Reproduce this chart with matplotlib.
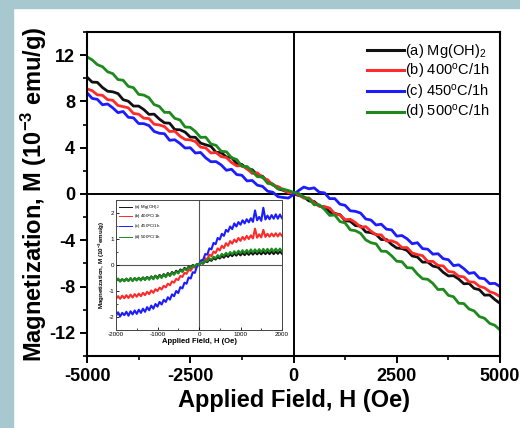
import numpy as np
import matplotlib
matplotlib.use('Agg')
import matplotlib.pyplot as plt
from matplotlib.patches import Rectangle
from matplotlib.ticker import MultipleLocator

plt.rcParams['font.family'] = ['Liberation Sans', 'DejaVu Sans']
plt.rcParams['axes.unicode_minus'] = False
plt.rcParams['mathtext.default'] = 'regular'

# Field sweep grids (Oe)
field_main = np.arange(-5000, 5001, 125)
field_inset = np.arange(-2000, 2001, 50)

labels = ['(a) Mg(OH)$_2$', '(b) 400$^{o}$C/1h', '(c) 450$^{o}$C/1h', '(d) 500$^{o}$C/1h']
colors = ['#111111', '#ff2a2a', '#1c1cff', '#1e8a1e']

# Main panel, M in 10^-3 emu/g
m_a = [10.1, 9.67, 9.65, 9.2, 8.88, 8.83, 8.68, 8.15, 8.02, 7.6, 7.6, 7.3, 6.88, 6.9, 6.48, 6.15, 6.12, 5.57, 5.55, 5.35,
       4.92, 4.9, 4.4, 4.25, 4.12, 3.6, 3.58, 3.2, 3.15, 2.63, 2.55, 2.17, 2.1, 1.65, 1.53, 1.05, 0.85, 0.45, 0.32, 0.13,
       0.0,
       -0.12, -0.25, -0.6, -0.65, -1.04, -1.11, -1.56, -1.68, -1.79, -2.3, -2.36, -2.73, -2.77, -3.28, -3.34, -3.5, -3.94, -3.93, -4.36, -4.67,
       -4.71, -4.88, -5.36, -5.45, -5.89, -5.88, -6.23, -6.33, -6.77, -7.08, -7.06, -7.35, -7.76, -7.73, -8.16, -8.27, -8.74, -8.73, -9.12, -9.45]
m_b = [9.08, 8.93, 8.57, 8.53, 8.15, 8.1, 7.65, 7.55, 7.45, 6.96, 6.9, 6.55, 6.52, 6.03, 5.97, 5.83, 5.4, 5.43, 5.0, 4.71,
       4.68, 4.53, 4.05, 3.98, 3.55, 3.58, 3.23, 3.15, 2.72, 2.43, 2.45, 2.18, 1.78, 1.83, 1.4, 1.23, 0.75, 0.65, 0.38, 0.12,
       0.05,
       -0.05, -0.36, -0.34, -0.76, -1.06, -1.09, -1.21, -1.72, -1.82, -2.22, -2.19, -2.47, -2.87, -2.82, -3.21, -3.52, -3.53, -4.06, -4.04, -4.22,
       -4.63, -4.63, -5.1, -5.23, -5.33, -5.83, -5.82, -6.18, -6.21, -6.7, -6.75, -7.11, -7.16, -7.59, -7.62, -7.98, -8.11, -8.44, -8.59, -8.87]
m_c = [8.75, 8.26, 8.18, 7.71, 7.78, 7.44, 7.03, 7.13, 6.63, 6.58, 6.09, 6.08, 5.92, 5.41, 5.25, 5.21, 4.64, 4.69, 4.37, 3.97,
       4.0, 3.54, 3.59, 3.12, 2.79, 2.8, 2.51, 2.05, 2.14, 1.68, 1.62, 1.13, 1.17, 0.76, 0.66, 0.24, 0.15, -0.23, -0.3, -0.35,
       -0.05,
       0.3, 0.6, 0.45, 0.53, 0.15, 0.1, -0.4, -0.4, -0.88, -0.98, -1.45, -1.5, -1.65, -2.16, -2.25, -2.68, -2.61, -3.04, -3.1, -3.64,
       -3.59, -3.87, -4.3, -4.21, -4.72, -4.77, -5.2, -5.16, -5.59, -5.68, -6.19, -6.12, -6.45, -6.86, -6.79, -7.27, -7.32, -7.75, -7.72, -8.0]
m_d = [11.85, 11.59, 11.18, 11.0, 10.56, 10.4, 9.89, 9.83, 9.3, 9.19, 8.61, 8.55, 8.32, 7.73, 7.57, 7.06, 7.05, 6.54, 6.4, 5.79,
       5.76, 5.4, 4.89, 4.91, 4.33, 4.2, 3.69, 3.65, 3.14, 2.98, 2.39, 2.38, 1.97, 1.49, 1.48, 0.92, 0.83, 0.45, 0.42, 0.3,
       0.15,
       0.05, -0.3, -0.4, -0.93, -0.93, -1.33, -1.85, -1.82, -2.38, -2.5, -3.1, -3.17, -3.4, -3.97, -4.21, -4.31, -4.94, -4.96, -5.34, -5.81,
       -5.85, -6.37, -6.39, -6.92, -7.32, -7.37, -7.73, -8.26, -8.23, -8.76, -8.88, -9.44, -9.47, -9.94, -10.11, -10.59, -10.74, -11.18, -11.35, -11.75]

# Inset panel, M in 10^-3 emu/g
i_a = [-0.6, -0.55, -0.62, -0.55, -0.61, -0.53, -0.6, -0.52, -0.6, -0.51, -0.58, -0.5, -0.57, -0.48, -0.56, -0.46, -0.54, -0.44, -0.52, -0.41,
       -0.5, -0.38, -0.47, -0.35, -0.44, -0.31, -0.4, -0.27, -0.35, -0.22, -0.3, -0.17, -0.24, -0.11, -0.18, -0.06, -0.12, 0.0, -0.05, 0.03,
       0.0,
       0.08, 0.05, 0.15, 0.11, 0.21, 0.16, 0.27, 0.21, 0.31, 0.25, 0.35, 0.28, 0.39, 0.31, 0.42, 0.34, 0.44, 0.36, 0.46, 0.37,
       0.47, 0.38, 0.48, 0.39, 0.49, 0.4, 0.5, 0.41, 0.5, 0.41, 0.51, 0.42, 0.51, 0.42, 0.52, 0.42, 0.52, 0.43, 0.52, 0.43]
i_b = [-1.3, -1.2, -1.3, -1.18, -1.28, -1.16, -1.27, -1.14, -1.25, -1.12, -1.22, -1.1, -1.2, -1.07, -1.16, -1.03, -1.12, -0.98, -1.07, -0.93,
       -1.0, -0.87, -0.94, -0.8, -0.86, -0.72, -0.78, -0.63, -0.68, -0.53, -0.58, -0.42, -0.46, -0.3, -0.34, -0.18, -0.22, -0.07, -0.1, 0.04,
       0.02,
       0.12, 0.1, 0.26, 0.22, 0.4, 0.34, 0.52, 0.46, 0.64, 0.56, 0.74, 0.65, 0.84, 0.74, 0.92, 0.82, 0.98, 0.88, 1.04, 0.93,
       1.08, 0.97, 1.12, 1.0, 1.14, 1.02, 1.4, 1.05, 1.18, 1.06, 1.35, 1.08, 1.2, 1.09, 1.21, 1.1, 1.22, 1.1, 1.22, 1.12]
i_c = [-1.95, -1.82, -1.98, -1.84, -1.93, -1.8, -1.95, -1.78, -1.9, -1.75, -1.88, -1.72, -1.84, -1.68, -1.8, -1.62, -1.74, -1.56, -1.68, -1.5,
       -1.6, -1.42, -1.52, -1.34, -1.42, -1.24, -1.33, -1.13, -1.2, -1.0, -1.08, -0.85, -0.9, -0.68, -0.72, -0.48, -0.52, -0.28, -0.3, -0.06,
       0.02,
       0.18, 0.2, 0.42, 0.4, 0.64, 0.6, 0.85, 0.8, 1.04, 0.98, 1.2, 1.12, 1.35, 1.28, 1.48, 1.38, 1.6, 1.48, 1.65, 1.55,
       1.72, 1.6, 1.76, 1.64, 1.8, 1.66, 2.1, 1.72, 1.85, 1.7, 2.2, 1.75, 1.9, 1.76, 1.92, 1.78, 1.95, 1.78, 1.94, 1.8]
i_d = [-0.62, -0.52, -0.64, -0.54, -0.63, -0.52, -0.62, -0.5, -0.62, -0.5, -0.6, -0.49, -0.6, -0.48, -0.58, -0.46, -0.57, -0.44, -0.55, -0.42,
       -0.53, -0.4, -0.5, -0.37, -0.47, -0.34, -0.43, -0.3, -0.38, -0.25, -0.33, -0.2, -0.27, -0.14, -0.2, -0.08, -0.13, -0.02, -0.06, 0.04,
       0.0,
       0.1, 0.06, 0.18, 0.14, 0.26, 0.2, 0.32, 0.26, 0.38, 0.3, 0.43, 0.35, 0.47, 0.38, 0.5, 0.41, 0.53, 0.43, 0.55, 0.45,
       0.57, 0.46, 0.58, 0.47, 0.6, 0.48, 0.6, 0.49, 0.61, 0.5, 0.62, 0.5, 0.62, 0.51, 0.63, 0.51, 0.63, 0.52, 0.63, 0.52]

main_series = [m_a, m_b, m_c, m_d]
inset_series = [i_a, i_b, i_c, i_d]

fig = plt.figure(figsize=(5.2, 4.28), dpi=100)
bg = '#a8c8cf'
fig.patches.append(Rectangle((0, 0), 13 / 520, 1, transform=fig.transFigure, color=bg, zorder=-5))
fig.patches.append(Rectangle((0, 1 - 8 / 428), 1, 8 / 428, transform=fig.transFigure, color=bg, zorder=-5))

# Main plot
ax = fig.add_axes([87 / 520, 72 / 428, 413 / 520, 324 / 428])
ax.axhline(0, color='black', lw=1.4, zorder=1)
ax.axvline(0, color='black', lw=1.4, zorder=1)
for m, c, lab in zip(main_series, colors, labels):
    ax.plot(field_main, m, color=c, lw=2.0, label=lab, zorder=2)

ax.set_xlim(-5000, 5000)
ax.set_ylim(-14, 14)
ax.set_xticks([-5000, -2500, 0, 2500, 5000])
ax.set_yticks([-12, -8, -4, 0, 4, 8, 12])
ax.xaxis.set_minor_locator(MultipleLocator(1250))
ax.yaxis.set_minor_locator(MultipleLocator(2))
ax.tick_params(which='major', direction='out', length=5, width=1.4, labelsize=13)
ax.tick_params(which='minor', direction='out', length=3, width=1.2)
for t in ax.get_xticklabels() + ax.get_yticklabels():
    t.set_fontweight('bold')
for s in ax.spines.values():
    s.set_linewidth(1.5)
ax.set_xlabel('Applied Field, H (Oe)', fontsize=17, fontweight='bold', labelpad=3)
ax.set_ylabel('Magnetization, M (10$^{-3}$ emu/g)', fontsize=17, fontweight='bold', labelpad=0)

leg = ax.legend(loc='upper right', frameon=False, fontsize=10.5, handlelength=2.5,
                handletextpad=0.1, labelspacing=0.12, borderaxespad=0.3)
for h in leg.get_lines():
    h.set_linewidth(2.2)

# Inset
axin = fig.add_axes([116 / 520, 98 / 428, 166 / 520, 130 / 428])
axin.axhline(0, color='#555555', lw=0.8, zorder=1)
axin.axvline(0, color='#555555', lw=0.8, zorder=1)
for m, c, lab in zip(inset_series, colors, labels):
    axin.plot(field_inset, m, color=c, lw=1.5, label=lab, zorder=2)
axin.set_xlim(-2000, 2000)
axin.set_ylim(-2.5, 2.5)
axin.set_xticks([-2000, -1000, 0, 1000, 2000])
axin.set_yticks([-2, -1, 0, 1, 2])
axin.xaxis.set_minor_locator(MultipleLocator(500))
axin.yaxis.set_minor_locator(MultipleLocator(0.5))
axin.tick_params(which='major', direction='in', length=2.5, width=0.6, labelsize=4.5, pad=1.5)
axin.tick_params(which='minor', direction='in', length=1.5, width=0.5)
for s in axin.spines.values():
    s.set_linewidth(0.7)
    s.set_color('#444444')
axin.set_xlabel('Applied Field, H (Oe)', fontsize=5.5, fontweight='bold', labelpad=1)
axin.set_ylabel('Magnetization, M (10$^{-3}$emu/g)', fontsize=4.5, fontweight='bold', labelpad=1)
lg2 = axin.legend(loc='upper left', frameon=False, fontsize=3.2, handlelength=3,
                  handletextpad=0.4, labelspacing=0.3, borderaxespad=0.3)
for h in lg2.get_lines():
    h.set_linewidth(0.7)

fig.savefig('out.png', dpi=100, facecolor='white')
